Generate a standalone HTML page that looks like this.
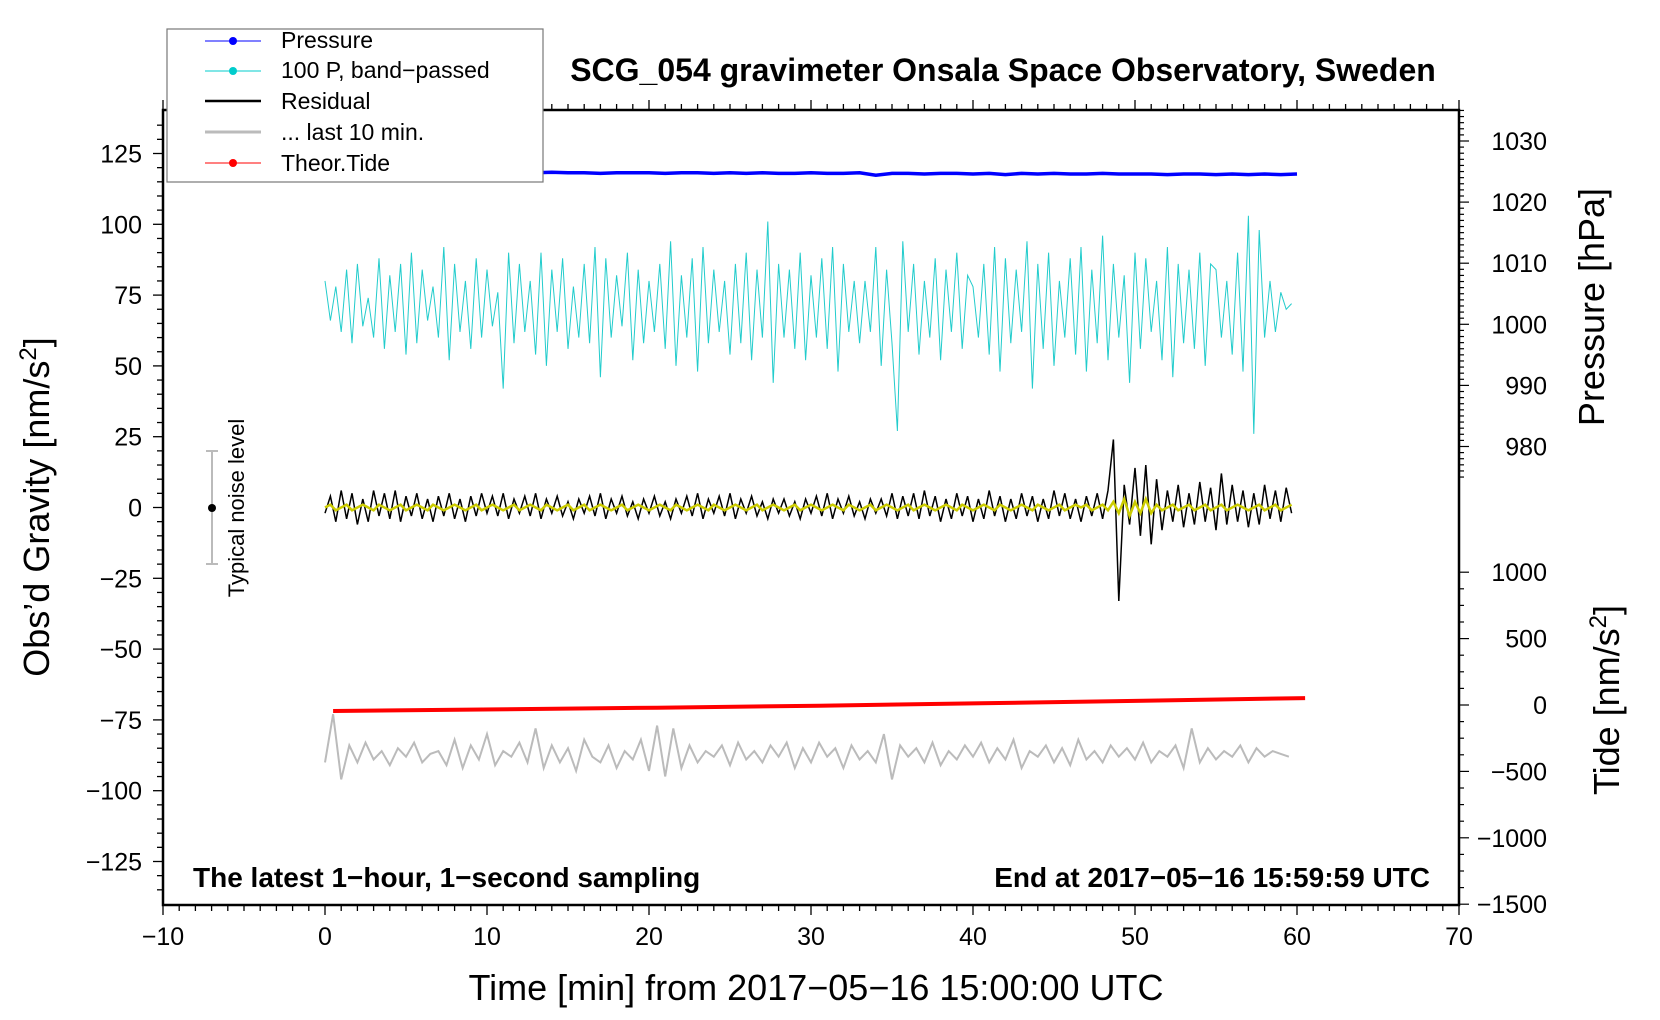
<!DOCTYPE html>
<html><head><meta charset="utf-8"><style>
html,body{margin:0;padding:0;background:#fff;}
svg{display:block;font-family:"Liberation Sans",Arial,sans-serif;}
</style></head><body>
<svg id="chart" width="1660" height="1020" viewBox="0 0 1660 1020" xmlns="http://www.w3.org/2000/svg">
<rect x="0" y="0" width="1660" height="1020" fill="#fff"/>
<g id="series"></g>
<g id="axes"></g>
<text x="1003" y="81" font-size="32" font-weight="bold" text-anchor="middle">SCG_054 gravimeter Onsala Space Observatory, Sweden</text>
<text x="193" y="887" font-size="28" font-weight="bold">The latest 1−hour, 1−second sampling</text>
<text x="1430" y="887" font-size="28" font-weight="bold" text-anchor="end">End at 2017−05−16 15:59:59 UTC</text>
<text x="816" y="1000" font-size="36" text-anchor="middle">Time [min] from 2017−05−16 15:00:00 UTC</text>
<text transform="translate(49,507) rotate(-90)" font-size="36" text-anchor="middle">Obs’d Gravity [nm/s<tspan dy="-13" font-size="24">2</tspan><tspan dy="13">]</tspan></text>
<text transform="translate(1604,307) rotate(-90)" font-size="36" text-anchor="middle">Pressure [hPa]</text>
<text transform="translate(1619,700) rotate(-90)" font-size="36" text-anchor="middle">Tide [nm/s<tspan dy="-13" font-size="24">2</tspan><tspan dy="13">]</tspan></text>
<g>
<line x1="212" y1="451" x2="212" y2="564" stroke="#bbb" stroke-width="2"/>
<line x1="206" y1="451" x2="218" y2="451" stroke="#bbb" stroke-width="2"/>
<line x1="206" y1="564" x2="218" y2="564" stroke="#bbb" stroke-width="2"/>
<circle cx="212" cy="508" r="4" fill="#000"/>
<text transform="translate(244,508) rotate(-90)" font-size="22" text-anchor="middle">Typical noise level</text>
</g>
<g>
<rect x="167" y="29" width="376" height="153" fill="#fff" stroke="#777" stroke-width="1.2"/>
<g><line x1="205" y1="41" x2="261" y2="41" stroke="#00f" stroke-width="1"/><circle cx="233" cy="41" r="4" fill="#00f"/><text x="281" y="48" font-size="23">Pressure</text></g>
<g><line x1="205" y1="71" x2="261" y2="71" stroke="#0cc" stroke-width="1"/><circle cx="233" cy="71" r="4" fill="#0cc"/><text x="281" y="78" font-size="23">100 P, band−passed</text></g>
<g><line x1="205" y1="101" x2="261" y2="101" stroke="#000" stroke-width="2.5"/><text x="281" y="109" font-size="23">Residual</text></g>
<g><line x1="205" y1="132" x2="261" y2="132" stroke="#bbb" stroke-width="3"/><text x="281" y="140" font-size="23">... last 10 min.</text></g>
<g><line x1="205" y1="163" x2="261" y2="163" stroke="#f00" stroke-width="1"/><circle cx="233" cy="163" r="4" fill="#f00"/><text x="281" y="171" font-size="23">Theor.Tide</text></g>
</g>
</svg>
<script>
const xTicks=[-10,0,10,20,30,40,50,60,70];
const yTicks=[-125,-100,-75,-50,-25,0,25,50,75,100,125];
const pTicks=[980,990,1000,1010,1020,1030];
const tideTicks=[-1500,-1000,-500,0,500,1000];
const bandPassed=[80,66,78,62,84,58,86,64,74,60,88,56,82,62,86,54,90,58,84,66,
78,60,92,52,86,62,80,56,88,60,84,64,76,42,90,58,86,62,80,54,
90,50,84,62,88,56,78,60,86,58,92,46,88,60,82,64,90,52,84,58,
80,62,86,56,94,50,82,60,88,48,92,58,84,62,80,54,86,58,90,52,84,60,101,44,86,60,
84,56,90,52,82,60,88,56,92,48,86,62,80,58,
80,62,92,50,84,58,27,94,62,86,54,80,60,88,52,84,62,90,56,82,
78,60,86,54,92,48,88,58,84,62,94,42,86,56,90,50,80,60,88,54,
92,48,84,58,96,52,86,60,82,44,90,56,88,62,80,52,92,46,86,58,84,56,90,50,86,
84,60,80,54,90,48,103,26,98,60,80,62,76,70,72];
const residual=[-2,4,-5,6,-4,5,-6,3,-5,6,-3,5,-4,6,-5,4,-3,5,-4,3,
-5,4,-3,5,-4,3,-5,4,-3,5,-2,4,-3,5,-4,3,-2,4,-3,5,
-4,3,-2,4,-3,2,-4,3,-2,4,-3,5,-4,3,-2,4,-3,2,-4,3,
-2,4,-3,2,-4,3,-2,4,-3,5,-4,3,-2,4,-3,5,-4,3,-2,4,
-3,2,-4,3,-2,3,-3,2,-4,3,-2,4,-3,5,-4,3,-2,4,-3,2,
-4,3,-2,3,-3,5,-4,4,-3,5,-4,6,-3,4,-5,3,-4,5,-3,4,
-5,3,-4,6,-3,4,-5,3,-4,5,-3,4,-5,3,-4,6,-3,5,-4,3,-5,4,-3,5,-4,6,24,-33,8,-6,
14,-10,15,-13,10,-8,6,-5,8,-7,5,-6,9,-5,7,-8,12,-6,8,-5,
6,-7,5,-6,8,-4,6,-5,7,-2];
const smoothed=[0,1,-1,0,1,-1,0,1,0,-1,1,0,-1,0,1,-1,0,1,0,-1,
1,0,-1,0,1,0,-1,0,1,-1,0,1,0,-1,0,1,-1,0,1,0,
-1,1,0,-1,0,1,-1,0,1,-1,0,1,0,-1,0,1,-1,0,1,0,
-1,0,1,0,-1,1,0,-1,0,1,0,-1,1,0,-1,0,1,0,-1,0,
1,-1,0,1,0,-1,0,1,-1,0,1,0,-1,0,1,0,-1,1,0,-1,
0,1,-1,0,1,0,-1,0,1,-1,0,1,0,-1,0,1,0,-1,1,0,
-1,0,1,0,-1,1,0,-1,0,1,0,-1,1,0,-1,0,1,-1,0,1,
0,1,-1,0,1,-1,2,-2,3,-3,2,-2,3,-2,1,-1,0,1,-1,0,1,-1,0,1,-1,0,
1,-1,0,1,0,-1,0,1,-1,0,1,-1,0,1];
const last10=[-90,-73,-96,-84,-90,-83,-89,-86,-91,-85,-88,-83,-90,-87,-86,-91,-82,-92,-84,-89,
-80,-91,-86,-88,-83,-90,-78,-92,-84,-90,-85,-93,-82,-88,-90,-84,-92,-86,-89,-82,
-93,-77,-95,-78,-92,-84,-90,-86,-88,-84,-91,-83,-89,-86,-90,-84,-88,-83,-92,-85,
-90,-83,-88,-85,-92,-84,-89,-86,-90,-80,-96,-84,-88,-85,-90,-83,-91,-86,-89,-84,
-88,-83,-90,-85,-89,-82,-92,-86,-88,-84,-90,-85,-91,-82,-89,-86,-90,-84,-88,-85,
-89,-83,-90,-86,-88,-84,-92,-78,-90,-85,-89,-86,-88,-84,-90,-85,-88,-86,-87,-88];
const pressure=[1024.9,1024.9,1024.8,1024.9,1024.9,1024.8,1024.9,1024.8,1024.9,1024.8,
1024.8,1024.9,1024.8,1024.8,1024.9,1024.8,1024.8,1024.7,1024.8,1024.8,
1024.8,1024.7,1024.8,1024.8,1024.7,1024.8,1024.7,1024.8,1024.7,1024.7,
1024.8,1024.7,1024.7,1024.8,1024.4,1024.7,1024.7,1024.6,1024.7,1024.7,
1024.6,1024.7,1024.5,1024.7,1024.6,1024.7,1024.6,1024.6,1024.7,1024.6,
1024.6,1024.6,1024.5,1024.6,1024.6,1024.5,1024.6,1024.5,1024.6,1024.5,1024.6];
const tideTimes=[0.5,10.5,20.5,30.5,40.5,50.5,60.5];
const tideValues=[-45,-33,-20,-5,13,32,52];

const X0=163,X1=1459,Y0=110,Y1=905;
function sx(t){return X0+(t+10)/80*(X1-X0);}
function sy(v){return 507.5-v*2.832;}
function sp(p){return 141+(1030-p)*6.11;}
function st(v){return 705-v*0.1328;}
const NS='http://www.w3.org/2000/svg';
function mk(tag,attrs,parent){const e=document.createElementNS(NS,tag);for(const k in attrs)e.setAttribute(k,attrs[k]);parent.appendChild(e);return e;}
const S=document.getElementById('series'),A=document.getElementById('axes');

function poly(vals,step,t0,f){return vals.map((v,i)=>sx(t0+i*step).toFixed(1)+','+f(v).toFixed(1)).join(' ');}

let el=mk('polyline',{points:poly(last10,0.5,0,sy),fill:'none',stroke:'#bbb','stroke-width':2},S);


el=mk('polyline',{points:poly(bandPassed,60/bandPassed.length,0,sy),fill:'none',stroke:'#2cc','stroke-width':1},S);


el=mk('polyline',{points:poly(residual,60/residual.length,0,sy),fill:'none',stroke:'#000','stroke-width':1.5},S);


el=mk('polyline',{points:poly(smoothed,60/smoothed.length,0,sy),fill:'none',stroke:'#cc0','stroke-width':2.5},S);


el=mk('polyline',{points:poly(pressure,1,0,sp),fill:'none',stroke:'#00f','stroke-width':3.5},S);


el=mk('polyline',{points:tideTimes.map((t,i)=>sx(t).toFixed(1)+','+st(tideValues[i]).toFixed(1)).join(' '),fill:'none',stroke:'#f00','stroke-width':4},S);



el=mk('rect',{x:X0,y:Y0,width:X1-X0,height:Y1-Y0,fill:'none',stroke:'#000','stroke-width':2.5},A);


for(let t=-10;t<=70;t++){const x=sx(t),maj=t%10===0;
 mk('line',{x1:x,y1:Y1,x2:x,y2:Y1+(maj?10:6),stroke:'#000','stroke-width':1.3},A);
 mk('line',{x1:x,y1:Y0,x2:x,y2:Y0-(maj?10:6),stroke:'#000','stroke-width':1.3},A);}
xTicks.forEach(t=>{const e=mk('text',{x:sx(t),y:945,'font-size':25,'text-anchor':'middle'},A);e.textContent=(t<0?'−':'')+Math.abs(t);
 
 });
for(let v=-135;v<=135;v+=5){const y=sy(v),maj=v%25===0;
 mk('line',{x1:X0,y1:y,x2:X0-(maj?10:6),y2:y,stroke:'#000','stroke-width':1.3},A);}
yTicks.forEach(v=>{const e=mk('text',{x:142,y:sy(v)+9,'font-size':25,'text-anchor':'end'},A);e.textContent=(v<0?'−':'')+Math.abs(v);
 
 });
for(let p=975;p<=1035;p++){const y=sp(p);if(y<Y0)continue;const maj=p%10===0;
 mk('line',{x1:X1,y1:y,x2:X1+(maj?10:5),y2:y,stroke:'#000','stroke-width':1.2},A);}
pTicks.forEach(p=>{const e=mk('text',{x:1547,y:sp(p)+9,'font-size':25,'text-anchor':'end'},A);e.textContent=p;
 
 });
for(let v=-1500;v<=1000;v+=125){const y=st(v),maj=v%500===0;
 mk('line',{x1:X1,y1:y,x2:X1+(maj?10:5),y2:y,stroke:'#000','stroke-width':1.2},A);}
tideTicks.forEach(v=>{const e=mk('text',{x:1547,y:st(v)+9,'font-size':25,'text-anchor':'end'},A);e.textContent=(v<0?'−':'')+Math.abs(v);
 
 });
</script>
</body></html>
